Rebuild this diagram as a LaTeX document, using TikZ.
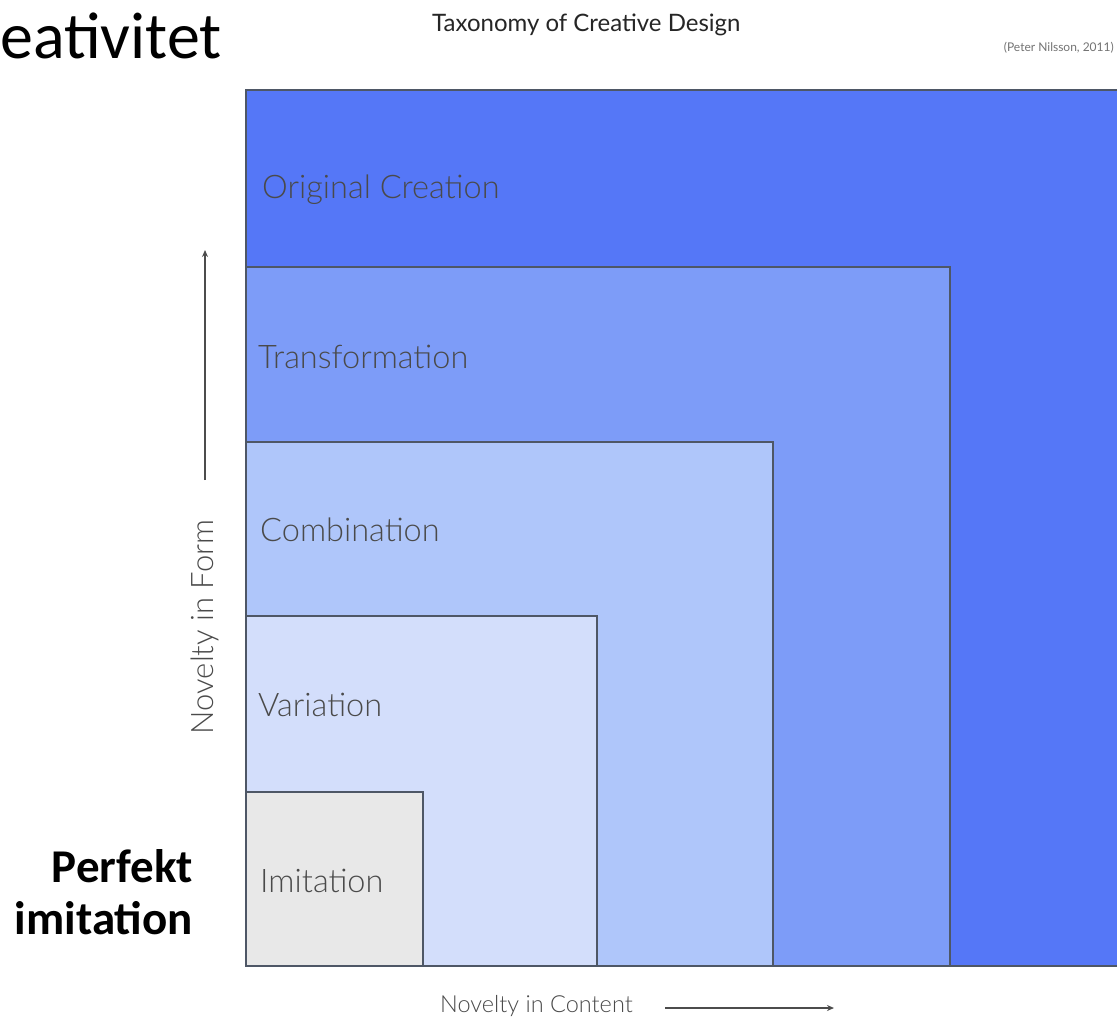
\documentclass[tikz,border=0pt]{standalone}
\usepackage{fontspec}
\setmainfont{Lato}
\newfontfamily\lightfont{Lato Light}
\newfontfamily\calfont{Carlito}
\usetikzlibrary{arrows.meta}
\definecolor{ocC}{HTML}{5577F7}
\definecolor{trC}{HTML}{7D9CF8}
\definecolor{coC}{HTML}{AFC6FA}
\definecolor{vaC}{HTML}{D3DEFB}
\definecolor{imC}{HTML}{E8E8E8}
\definecolor{edgeC}{HTML}{4E5766}
\definecolor{lblC}{HTML}{4A4A4A}
\tikzset{
  region/.style={draw=edgeC, line width=1.6pt},
  lbl/.style={anchor=base west, inner sep=0pt, text=lblC, font=\lightfont\fontsize{32.5}{38}\selectfont},
  axis/.style={draw=black!70, line width=1.2pt, -{Stealth[length=7pt,width=6pt]}},
}
\begin{document}
\begin{tikzpicture}[x=1pt,y=-1pt]
\useasboundingbox (0,0) rectangle (1117,1031);
\clip (0,0) rectangle (1117,1031);
\fill[white] (0,0) rectangle (1117,1031);
% regions
\filldraw[region, fill=ocC] (246,90) rectangle (1140,966);
\filldraw[region, fill=trC] (246,267) rectangle (950,966);
\filldraw[region, fill=coC] (246,442) rectangle (773,966);
\filldraw[region, fill=vaC] (246,616) rectangle (597,966);
\filldraw[region, fill=imC] (246,792) rectangle (423,966);
% labels
\node[lbl] (oc) at (262,198) {Original Creation};
\node[lbl] (tr) at (258,368) {Transformation};
\node[lbl] (co) at (260,541) {Combination};
\node[lbl] (va) at (258,716) {Variation};
\node[lbl] (im) at (260,892) {Imitation};
% titles
\node[anchor=base west, inner sep=0pt, text=black!85, font=\fontsize{24}{28}\selectfont] (title) at (432,31) {Taxonomy of Creative Design};
\node[anchor=base east, inner sep=0pt, text=black!55, font=\fontsize{12}{14}\selectfont] (attr) at (1114,51) {(Peter Nilsson, 2011)};
\node[anchor=base west, inner sep=0pt, font=\calfont\fontsize{66}{72}\selectfont] (kr) at (0,58) {eativitet};
\node[anchor=east, inner sep=0pt, align=right, font=\calfont\bfseries\fontsize{47}{52}\selectfont] (pi) at (193,892) {Perfekt\\imitation};
% axes
\node[rotate=90, inner sep=0pt, text=lblC, font=\lightfont\fontsize{31}{36}\selectfont] (nf) at (205,627) {Novelty in Form};
\coordinate (fa) at (205,480);
\coordinate (fb) at (205,250);
\draw[axis] (fa) -- (fb);
\node[anchor=base west, inner sep=0pt, text=lblC, font=\lightfont\fontsize{23.5}{28}\selectfont] (nc) at (440,1012) {Novelty in Content};
\coordinate (ca) at (665,1008);
\coordinate (cb) at (834,1008);
\draw[axis] (ca) -- (cb);
\end{tikzpicture}
\end{document}
